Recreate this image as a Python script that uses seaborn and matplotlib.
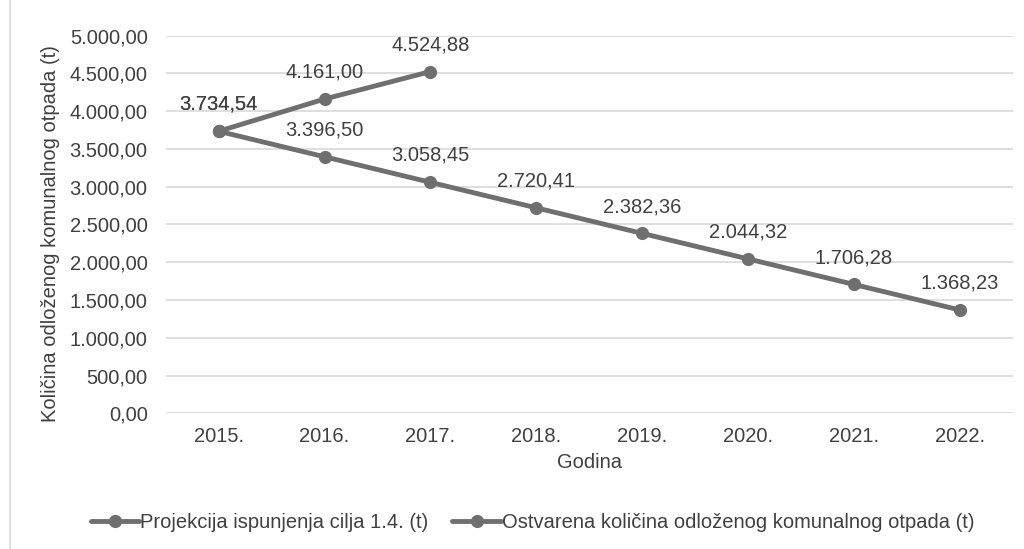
import pandas as pd
import matplotlib.pyplot as plt
import seaborn as sns
from matplotlib.patches import Rectangle
from matplotlib.lines import Line2D
from matplotlib.ticker import FuncFormatter

# données
godine = ['2015.', '2016.', '2017.', '2018.', '2019.', '2020.', '2021.', '2022.']
projekcija = [3734.54, 3396.50, 3058.45, 2720.41, 2382.36, 2044.32, 1706.28, 1368.23]
ostvareno_godine = ['2015.', '2016.', '2017.']
ostvareno = [3734.54, 4161.00, 4524.88]

naziv_proj = 'Projekcija ispunjenja cilja 1.4. (t)'
naziv_ostv = 'Ostvarena količina odloženog komunalnog otpada (t)'

siva = '#6f6f6f'
tekst = '#404040'
fs = 14.5


def hr_format(v):
    # 1234.5 -> 1.234,50
    s = f'{v:,.2f}'
    return s.replace(',', 'X').replace('.', ',').replace('X', '.')


sns.set_theme(style="white")
plt.rcParams['font.family'] = ['Liberation Sans', 'DejaVu Sans']

df_proj = pd.DataFrame({'Godina': godine, 'Vrijednost': projekcija})
df_ostv = pd.DataFrame({'Godina': ostvareno_godine, 'Vrijednost': ostvareno})

fig = plt.figure(figsize=(10.24, 5.49), dpi=100)
ax = fig.add_axes([0.1618, 0.2472, 0.989 - 0.1618, 0.935 - 0.2472])

stil = dict(color=siva, linewidth=3.5, marker='o', markersize=9.5, markeredgewidth=0)
sns.lineplot(data=df_proj, x='Godina', y='Vrijednost', ax=ax, sort=False, **stil)
sns.lineplot(data=df_ostv, x='Godina', y='Vrijednost', ax=ax, sort=False, **stil)

# oznake podataka iznad točaka
for i, v in enumerate(projekcija):
    ax.annotate(hr_format(v), (i, v), xytext=(0, 12.5), textcoords='offset points',
                ha='center', va='bottom', fontsize=fs, color=tekst)
for i, v in enumerate(ostvareno):
    ax.annotate(hr_format(v), (i, v), xytext=(0, 12.5), textcoords='offset points',
                ha='center', va='bottom', fontsize=fs, color=tekst)

ax.set_xlim(-0.5, 7.5)
ax.set_ylim(0, 5000)
ax.set_yticks(range(0, 5001, 500))
ax.yaxis.set_major_formatter(FuncFormatter(lambda v, p: hr_format(v)))
ax.grid(axis='y', color='#d9d9d9', linewidth=1.2)
ax.set_axisbelow(True)
for s in ax.spines.values():
    s.set_visible(False)
ax.tick_params(axis='y', length=0, pad=13, labelsize=fs, labelcolor=tekst)
ax.tick_params(axis='x', length=0, pad=10, labelsize=fs, labelcolor=tekst)

ax.set_xlabel('Godina', fontsize=fs, color=tekst, labelpad=5)
ax.set_ylabel('Količina odloženog komunalnog otpada (t)', fontsize=fs, color=tekst)
ax.yaxis.set_label_coords(-0.1247, 0.476)

# okvir grafikona
fig.patches.append(Rectangle((10 / 1024, -0.2), 1.2, 1.2 + 1 - 10 / 549, transform=fig.transFigure,
                             fill=False, edgecolor='#d9d9d9', linewidth=1.2))

# legenda
h = [Line2D([], [], **stil), Line2D([], [], **stil)]
fig.legend(h, [naziv_proj, naziv_ostv], loc='center', bbox_to_anchor=(0.52, 1 - 523 / 549),
           ncol=2, frameon=False, fontsize=fs, handlelength=2.4, handletextpad=0.05,
           columnspacing=1.2, labelcolor=tekst)

plt.savefig('out.png', dpi=100)
